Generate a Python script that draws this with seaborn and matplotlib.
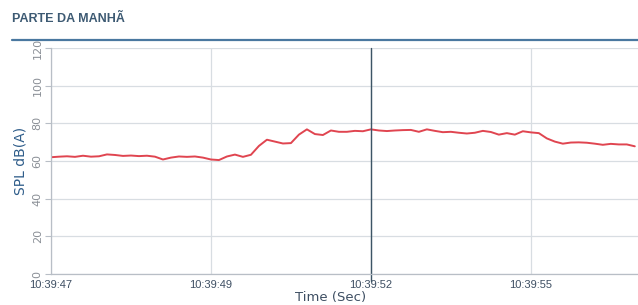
import pandas as pd
import matplotlib.pyplot as plt
import seaborn as sns
from matplotlib.lines import Line2D

# SPL samples (one reading per step)
spl = [62.0, 62.3, 62.5, 62.2, 62.8, 62.3, 62.5, 63.5, 63.2, 62.7,
       62.9, 62.6, 62.8, 62.3, 60.8, 61.8, 62.4, 62.2, 62.4, 61.8,
       60.8, 60.5, 62.4, 63.4, 62.2, 63.3, 68.0, 71.3, 70.3, 69.3,
       69.5, 74.0, 76.8, 74.3, 73.8, 76.2, 75.5, 75.5, 76.0, 75.8,
       76.8, 76.2, 75.9, 76.2, 76.4, 76.5, 75.5, 76.8, 76.0, 75.3,
       75.5, 75.0, 74.6, 75.0, 76.0, 75.4, 74.0, 74.8, 74.0, 75.8,
       75.2, 74.8, 72.0, 70.3, 69.2, 69.8, 69.9, 69.7, 69.2, 68.6,
       69.1, 68.8, 68.8, 67.8]
tick_pos = [0, 20, 40, 60]
tick_labels = ['10:39:47', '10:39:49', '10:39:52', '10:39:55']
y_ticks = [0, 20, 40, 60, 80, 100, 120]
cursor_at = 40

df = pd.DataFrame({'sample': range(len(spl)), 'spl': spl})

sns.set_style('whitegrid')
plt.rcParams['font.family'] = ['DejaVu Sans']
narrow = ['Liberation Sans', 'DejaVu Sans']

fig = plt.figure(figsize=(6.38, 3.05), dpi=100)
ax = fig.add_axes([51 / 638, 1 - 274 / 305, 1 - 51 / 638, (274 - 48) / 305])

sns.lineplot(data=df, x='sample', y='spl', color='#e04550', lw=1.4, ax=ax)

ax.set_xlim(0, 73.4)
ax.set_ylim(0, 120)
ax.set_yticks(y_ticks)
ax.set_yticklabels([str(v) for v in y_ticks], rotation=90, va='center',
                   fontsize=8, color='#8a8f96')
ax.set_xticks(tick_pos)
ax.set_xticklabels(tick_labels, fontsize=8, color='#3e4f63', family=narrow)
ax.tick_params(axis='y', length=4, width=0.8, color='#b8bec6', pad=2, left=True)
ax.tick_params(axis='x', length=0, pad=4)
ax.grid(True, color='#d8dde2', lw=0.9)
for s in ['top', 'right']:
    ax.spines[s].set_visible(False)
for s in ['left', 'bottom']:
    ax.spines[s].set_color('#b8bec6')
    ax.spines[s].set_linewidth(0.9)

ax.axvline(cursor_at, ymin=-0.03, ymax=1, color='#3d5566', lw=1, clip_on=False)

ax.set_xlabel('Time (Sec)', fontsize=9.5, color='#3e4f63')
ax.xaxis.set_label_coords((331 - 51) / 587, -0.075)
ax.xaxis.label.set_va('top')
ax.set_ylabel('SPL dB(A)', fontsize=10, color='#2f5d8a', labelpad=4)

fig.text(12 / 638, 1 - 19 / 305, 'PARTE DA MANHÃ', fontsize=9, color='#3d5a73',
         family=narrow, fontweight='bold', va='center')
fig.add_artist(Line2D([12 / 638, 1], [1 - 40 / 305, 1 - 40 / 305],
                      color='#4a78a0', lw=1.6, transform=fig.transFigure))

fig.savefig('out.png', dpi=100)
